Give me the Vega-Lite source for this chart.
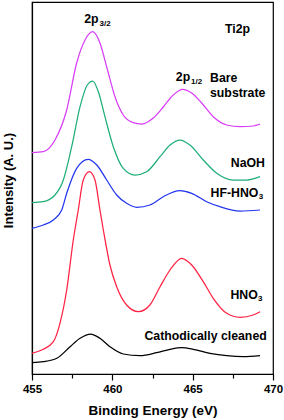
{
  "$schema": "https://vega.github.io/schema/vega-lite/v6.json",
  "width": 241,
  "height": 372,
  "autosize": {"type": "none"},
  "padding": {"left": 32, "top": 2, "right": 11, "bottom": 46},
  "background": "white",
  "config": {
    "view": {"stroke": "black", "strokeWidth": 1.2},
    "font": "Liberation Sans",
    "axis": {"domainColor": "black", "tickColor": "black", "labelColor": "black", "titleColor": "black", "grid": false, "domainWidth": 1.2, "tickWidth": 1.2}
  },
  "datasets": {
    "curves": [
      {"s": "Bare substrate", "e": 455.00, "v": 221.3},
      {"s": "Bare substrate", "e": 455.70, "v": 222.3},
      {"s": "Bare substrate", "e": 456.43, "v": 234},
      {"s": "Bare substrate", "e": 457.16, "v": 264},
      {"s": "Bare substrate", "e": 457.78, "v": 311},
      {"s": "Bare substrate", "e": 458.30, "v": 334},
      {"s": "Bare substrate", "e": 458.78, "v": 342.3},
      {"s": "Bare substrate", "e": 459.23, "v": 331},
      {"s": "Bare substrate", "e": 459.65, "v": 307},
      {"s": "Bare substrate", "e": 460.17, "v": 277},
      {"s": "Bare substrate", "e": 460.68, "v": 259},
      {"s": "Bare substrate", "e": 461.30, "v": 251.3},
      {"s": "Bare substrate", "e": 461.83, "v": 250},
      {"s": "Bare substrate", "e": 462.55, "v": 256},
      {"s": "Bare substrate", "e": 463.17, "v": 267},
      {"s": "Bare substrate", "e": 463.79, "v": 279},
      {"s": "Bare substrate", "e": 464.38, "v": 284.7},
      {"s": "Bare substrate", "e": 464.94, "v": 281},
      {"s": "Bare substrate", "e": 465.56, "v": 271},
      {"s": "Bare substrate", "e": 466.28, "v": 257.3},
      {"s": "Bare substrate", "e": 467.12, "v": 249},
      {"s": "Bare substrate", "e": 467.95, "v": 247.3},
      {"s": "Bare substrate", "e": 468.77, "v": 248},
      {"s": "Bare substrate", "e": 469.19, "v": 250},
      {"s": "NaOH", "e": 455.00, "v": 171.3},
      {"s": "NaOH", "e": 455.70, "v": 172.3},
      {"s": "NaOH", "e": 456.43, "v": 179},
      {"s": "NaOH", "e": 456.95, "v": 194},
      {"s": "NaOH", "e": 457.47, "v": 227.3},
      {"s": "NaOH", "e": 457.99, "v": 267.3},
      {"s": "NaOH", "e": 458.44, "v": 289},
      {"s": "NaOH", "e": 458.78, "v": 293},
      {"s": "NaOH", "e": 459.13, "v": 282.3},
      {"s": "NaOH", "e": 459.54, "v": 257.3},
      {"s": "NaOH", "e": 460.06, "v": 227.3},
      {"s": "NaOH", "e": 460.68, "v": 205.7},
      {"s": "NaOH", "e": 461.41, "v": 199},
      {"s": "NaOH", "e": 462.14, "v": 202.3},
      {"s": "NaOH", "e": 462.97, "v": 217.3},
      {"s": "NaOH", "e": 463.59, "v": 229},
      {"s": "NaOH", "e": 464.21, "v": 234},
      {"s": "NaOH", "e": 464.83, "v": 229},
      {"s": "NaOH", "e": 465.66, "v": 214},
      {"s": "NaOH", "e": 466.50, "v": 200.7},
      {"s": "NaOH", "e": 467.53, "v": 194},
      {"s": "NaOH", "e": 468.36, "v": 194},
      {"s": "NaOH", "e": 469.19, "v": 197.3},
      {"s": "HF-HNO3", "e": 455.00, "v": 145.7},
      {"s": "HF-HNO3", "e": 455.70, "v": 149},
      {"s": "HF-HNO3", "e": 456.33, "v": 154},
      {"s": "HF-HNO3", "e": 456.85, "v": 164},
      {"s": "HF-HNO3", "e": 457.16, "v": 180.7},
      {"s": "HF-HNO3", "e": 457.78, "v": 205.7},
      {"s": "HF-HNO3", "e": 458.50, "v": 214.7},
      {"s": "HF-HNO3", "e": 459.03, "v": 209},
      {"s": "HF-HNO3", "e": 459.65, "v": 194},
      {"s": "HF-HNO3", "e": 460.27, "v": 179},
      {"s": "HF-HNO3", "e": 460.89, "v": 170.7},
      {"s": "HF-HNO3", "e": 461.52, "v": 166.7},
      {"s": "HF-HNO3", "e": 462.34, "v": 169},
      {"s": "HF-HNO3", "e": 463.17, "v": 177.3},
      {"s": "HF-HNO3", "e": 464.21, "v": 183.3},
      {"s": "HF-HNO3", "e": 464.94, "v": 180.7},
      {"s": "HF-HNO3", "e": 465.87, "v": 172.3},
      {"s": "HF-HNO3", "e": 466.70, "v": 167.3},
      {"s": "HF-HNO3", "e": 467.95, "v": 163},
      {"s": "HF-HNO3", "e": 469.19, "v": 164},
      {"s": "HNO3", "e": 455.00, "v": 20.7},
      {"s": "HNO3", "e": 455.70, "v": 24.7},
      {"s": "HNO3", "e": 456.33, "v": 32.3},
      {"s": "HNO3", "e": 456.74, "v": 50.7},
      {"s": "HNO3", "e": 457.16, "v": 84},
      {"s": "HNO3", "e": 457.57, "v": 134},
      {"s": "HNO3", "e": 457.88, "v": 164},
      {"s": "HNO3", "e": 458.19, "v": 194},
      {"s": "HNO3", "e": 458.57, "v": 202.3},
      {"s": "HNO3", "e": 458.92, "v": 194},
      {"s": "HNO3", "e": 459.23, "v": 164},
      {"s": "HNO3", "e": 459.44, "v": 144},
      {"s": "HNO3", "e": 459.85, "v": 109},
      {"s": "HNO3", "e": 460.27, "v": 87.3},
      {"s": "HNO3", "e": 460.89, "v": 69},
      {"s": "HNO3", "e": 461.62, "v": 62.3},
      {"s": "HNO3", "e": 462.34, "v": 69},
      {"s": "HNO3", "e": 462.97, "v": 87.3},
      {"s": "HNO3", "e": 463.59, "v": 104},
      {"s": "HNO3", "e": 464.32, "v": 115.7},
      {"s": "HNO3", "e": 464.94, "v": 109},
      {"s": "HNO3", "e": 465.66, "v": 92.3},
      {"s": "HNO3", "e": 466.28, "v": 75.7},
      {"s": "HNO3", "e": 467.12, "v": 60.7},
      {"s": "HNO3", "e": 467.95, "v": 56.7},
      {"s": "HNO3", "e": 468.77, "v": 59},
      {"s": "HNO3", "e": 469.19, "v": 62.3},
      {"s": "Cathodically cleaned", "e": 455.00, "v": 11.3},
      {"s": "Cathodically cleaned", "e": 455.70, "v": 12.3},
      {"s": "Cathodically cleaned", "e": 456.54, "v": 15.7},
      {"s": "Cathodically cleaned", "e": 457.37, "v": 27.3},
      {"s": "Cathodically cleaned", "e": 457.99, "v": 35.7},
      {"s": "Cathodically cleaned", "e": 458.65, "v": 40},
      {"s": "Cathodically cleaned", "e": 459.23, "v": 35.7},
      {"s": "Cathodically cleaned", "e": 459.85, "v": 27.3},
      {"s": "Cathodically cleaned", "e": 460.68, "v": 20},
      {"s": "Cathodically cleaned", "e": 461.72, "v": 18.3},
      {"s": "Cathodically cleaned", "e": 462.76, "v": 21.3},
      {"s": "Cathodically cleaned", "e": 463.59, "v": 24.7},
      {"s": "Cathodically cleaned", "e": 464.32, "v": 26.3},
      {"s": "Cathodically cleaned", "e": 465.04, "v": 24.7},
      {"s": "Cathodically cleaned", "e": 466.08, "v": 20.7},
      {"s": "Cathodically cleaned", "e": 467.12, "v": 18.3},
      {"s": "Cathodically cleaned", "e": 468.15, "v": 17.3},
      {"s": "Cathodically cleaned", "e": 469.19, "v": 18.3}
    ],
    "rightLabels": [
      {"t": "NaOH", "e": 469.50, "v": 207},
      {"t": "HF-HNO", "e": 469.09, "v": 177.5},
      {"t": "HNO", "e": 469.05, "v": 75.5},
      {"t": "Cathodically cleaned", "e": 469.61, "v": 34}
    ],
    "leftLabels": [
      {"t": "Bare", "e": 466.08, "v": 292.3},
      {"t": "substrate", "e": 466.08, "v": 277.3},
      {"t": "Ti2p", "e": 467.01, "v": 341},
      {"t": "2p", "e": 463.95, "v": 293.3},
      {"t": "2p", "e": 458.25, "v": 351.3}
    ],
    "subLabels": [
      {"t": "3", "e": 469.12, "v": 175},
      {"t": "3", "e": 469.07, "v": 73},
      {"t": "1/2", "e": 464.90, "v": 290},
      {"t": "3/2", "e": 459.20, "v": 348}
    ],
    "minor": [
      {"e": 457.5}, {"e": 462.5}, {"e": 467.5}
    ]
  },
  "resolve": {"axis": {"x": "independent", "y": "independent"}},
  "layer": [
    {
      "data": {"name": "curves"},
      "mark": {"type": "line", "strokeWidth": 1.25, "interpolate": "monotone"},
      "encoding": {
        "x": {"field": "e", "type": "quantitative",
          "scale": {"domain": [455, 470], "nice": false, "zero": false},
          "axis": {"orient": "bottom", "values": [455, 460, 465, 470], "tickSize": 6, "labelPadding": 3,
            "labelFontSize": 11.5, "labelFontWeight": "bold", "labelFlush": false,
            "title": "Binding Energy (eV)", "titleFontSize": 13.5, "titleFontWeight": "bold",
            "titleX": 120.5, "titleY": 40, "titleBaseline": "alphabetic", "titleAlign": "center"}},
        "y": {"field": "v", "type": "quantitative",
          "scale": {"domain": [0, 372], "nice": false, "zero": false},
          "axis": {"orient": "left", "labels": false, "ticks": false,
            "title": "Intensity (A. U.)", "titleFontSize": 13, "titleFontWeight": "bold",
            "titleAngle": -90, "titleX": -24, "titleY": 178, "titleBaseline": "middle", "titleAlign": "center"}},
        "color": {"field": "s", "type": "nominal", "legend": null,
          "scale": {"domain": ["Bare substrate", "NaOH", "HF-HNO3", "HNO3", "Cathodically cleaned"],
            "range": ["#d83ef6", "#1fae78", "#2236ee", "#ff2243", "#000000"]}}
      }
    },
    {
      "data": {"name": "minor"},
      "mark": {"type": "point", "opacity": 0},
      "encoding": {
        "x": {"field": "e", "type": "quantitative",
          "scale": {"domain": [455, 470], "nice": false, "zero": false},
          "axis": {"orient": "bottom", "values": [457.5, 462.5, 467.5], "tickSize": 4, "labels": false, "domain": false, "title": null}}
      }
    },
    {
      "data": {"name": "rightLabels"},
      "mark": {"type": "text", "align": "right", "baseline": "alphabetic", "font": "Liberation Sans", "fontWeight": "bold", "fontSize": 12.3, "color": "black"},
      "encoding": {
        "x": {"field": "e", "type": "quantitative", "axis": null},
        "y": {"field": "v", "type": "quantitative", "axis": null},
        "text": {"field": "t"}
      }
    },
    {
      "data": {"name": "leftLabels"},
      "mark": {"type": "text", "align": "left", "baseline": "alphabetic", "font": "Liberation Sans", "fontWeight": "bold", "fontSize": 12.3, "color": "black"},
      "encoding": {
        "x": {"field": "e", "type": "quantitative", "axis": null},
        "y": {"field": "v", "type": "quantitative", "axis": null},
        "text": {"field": "t"}
      }
    },
    {
      "data": {"name": "subLabels"},
      "mark": {"type": "text", "align": "left", "baseline": "alphabetic", "font": "Liberation Sans", "fontWeight": "bold", "fontSize": 8, "color": "black"},
      "encoding": {
        "x": {"field": "e", "type": "quantitative", "axis": null},
        "y": {"field": "v", "type": "quantitative", "axis": null},
        "text": {"field": "t"}
      }
    }
  ]
}
